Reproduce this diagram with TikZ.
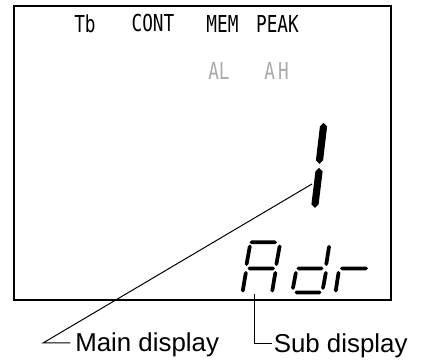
\documentclass[tikz,border=0pt]{standalone}
\usepackage{fontspec}
\setmainfont{Liberation Sans}
\newfontfamily\lcdfont{DejaVu Sans Mono}
\definecolor{lcdgrey}{RGB}{170,170,170}
\newcommand\vsegm[5]{\fill (#1,#2) -- ({#1+#5},{#2+#5}) -- ({#3+#5},{#4-#5}) -- (#3,#4) -- ({#3-#5},{#4-#5}) -- ({#1-#5},{#2+#5}) -- cycle;}
\newcommand\hsegm[4]{\fill (#1,#3) -- ({#1+#4},{#3-#4}) -- ({#2-#4},{#3-#4}) -- (#2,#3) -- ({#2-#4},{#3+#4}) -- ({#1+#4},{#3+#4}) -- cycle;}
\tikzset{
  toplabel/.style={inner sep=0pt, font=\lcdfont\fontsize{17.5}{19}\selectfont},
  caption/.style={inner sep=0pt, anchor=base west, font=\fontsize{19.4}{22}\selectfont},
  leader/.style={line width=0.75pt}
}
\begin{document}
\begin{tikzpicture}[x=0.75pt,y=-0.75pt]
\useasboundingbox (0,0) rectangle (426,363);
% frame
\draw[line width=1.1pt] (14,6) rectangle (391,300);
% top labels
\node[toplabel] (tb)   at (85,23.5)  {\scalebox{0.76}[1]{Tb}};
\node[toplabel] (cont) at (153,23.5) {\scalebox{0.76}[1]{CONT}};
\node[toplabel] (mem)  at (222.5,23.5) {\scalebox{0.76}[1]{MEM}};
\node[toplabel] (peak) at (277.5,23.5) {\scalebox{0.76}[1]{PEAK}};
\node[toplabel, text=lcdgrey] (al) at (219,70.5) {\scalebox{0.76}[1]{AL}};
\node[toplabel, text=lcdgrey] (ah) at (276.5,70.5) {\scalebox{0.76}[1]{A\kern3pt H}};
% main digit "1"
\vsegm{323.5}{123}{319.5}{164}{3.6}
\vsegm{319}{168}{315}{208}{3.6}
% sub display "Adr"
% A
\hsegm{249.5}{277}{242.3}{1.9}
\vsegm{249.8}{244.5}{246.6}{266}{1.9}
\vsegm{279.6}{244.5}{276.4}{266}{1.9}
\hsegm{247.5}{275}{268.5}{1.9}
\vsegm{245.8}{271}{242.8}{292.5}{1.9}
\vsegm{275.3}{271}{272.3}{292.5}{1.9}
% d
\vsegm{329}{245}{326.3}{266}{1.9}
\hsegm{296.5}{323.5}{268.5}{1.9}
\vsegm{295.8}{271}{293}{290}{1.9}
\vsegm{325.8}{271}{323}{290}{1.9}
\hsegm{294.5}{321.5}{292.5}{1.9}
% r
\vsegm{338.5}{271}{335.8}{292.5}{1.9}
\hsegm{340}{368}{268.5}{1.9}
% captions and leaders
\node[caption] (main) at (75,352) {Main display};
\node[caption] (sub)  at (273.5,352.5) {Sub display};
\coordinate (mt) at (312,184);
\coordinate (mv) at (43,343);
\coordinate (st) at (254,294);
\coordinate (sc) at (254,344);
\draw[leader] (mt) -- (mv) -- ([xshift=-3.5pt]mv -| main.west);
\draw[leader] (st) -- (sc) -- ([xshift=-1.5pt]sc -| sub.west);
\end{tikzpicture}
\end{document}
